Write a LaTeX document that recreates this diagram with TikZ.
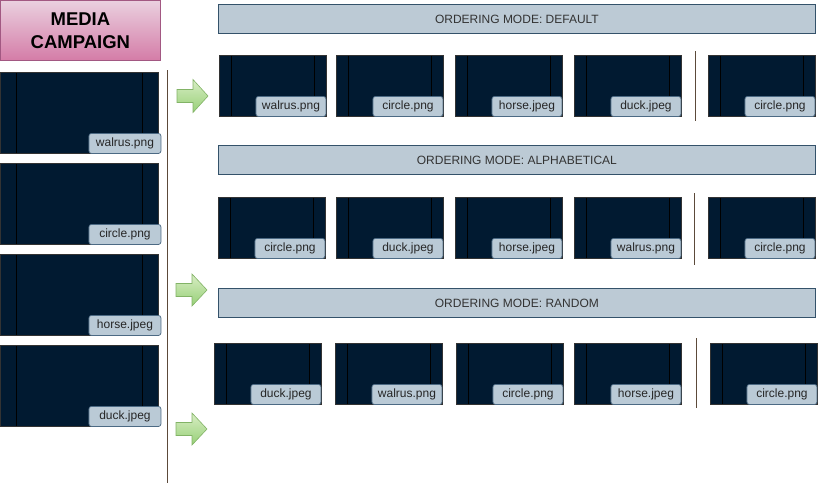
\documentclass[tikz,border=0pt]{standalone}
\usepackage{fontspec}
\setmainfont{Liberation Sans}
\usepackage{tikz}
\usetikzlibrary{positioning,calc}

\definecolor{tilenavy}{HTML}{011A31}
\definecolor{lblfill}{HTML}{BACAD6}
\definecolor{lbldraw}{HTML}{4C6A84}
\definecolor{hdrfill}{HTML}{BCCAD5}
\definecolor{hdrdraw}{HTML}{34526A}
\definecolor{sepbrown}{HTML}{5C4A3A}
\definecolor{pinktop}{HTML}{EAD0DF}
\definecolor{pinkbot}{HTML}{D47CA7}
\definecolor{pinkdraw}{HTML}{A25882}
\definecolor{greentop}{HTML}{D8EDC4}
\definecolor{greenbot}{HTML}{97D077}
\definecolor{greendraw}{HTML}{82B366}

\begin{document}
\begin{tikzpicture}[x=1pt, y=-1pt,
    tile/.style={draw=black!80, fill=tilenavy, line width=0.8pt, minimum width=107pt, minimum height=61pt, inner sep=0pt, anchor=north west,
      path picture={\draw[black, line width=0.8pt]
        ([xshift=#1]path picture bounding box.north west) -- ([xshift=#1]path picture bounding box.south west)
        ([xshift=-#1]path picture bounding box.north east) -- ([xshift=-#1]path picture bounding box.south east);}},
    tile/.default=12pt,
    lbl/.style={draw=lbldraw, fill=lblfill, rounded corners=2.5pt, line width=0.7pt, minimum width=70pt, minimum height=20pt, inner sep=0pt, anchor=south east, text=black!85, font=\fontsize{12}{14}\selectfont},
    hdr/.style={draw=hdrdraw, fill=hdrfill, line width=0.8pt, minimum width=597pt, minimum height=29pt, inner sep=0pt, anchor=north west, text=black!80, font=\fontsize{12}{14}\selectfont},
    sep/.style={draw=sepbrown, line width=0.9pt},
    garrow/.style={draw=greendraw, top color=greentop, bottom color=greenbot, line width=0.6pt}]
    \useasboundingbox (0,0) rectangle (818,485);

    % campaign
    \node[draw=pinkdraw, top color=pinktop, bottom color=pinkbot, line width=0.8pt, minimum width=160pt, minimum height=60pt, inner sep=0pt, anchor=north west, align=center, font=\fontsize{18.5}{23}\selectfont\bfseries] (camp) at (0,0) {MEDIA\\CAMPAIGN};
    \node[tile=16pt, minimum width=158pt, minimum height=81pt] (m1) at (0,72) {};
    \node[tile=16pt, minimum width=158pt, minimum height=81pt] (m2) at (0,163) {};
    \node[tile=16pt, minimum width=158pt, minimum height=81pt] (m3) at (0,254) {};
    \node[tile=16pt, minimum width=158pt, minimum height=81pt] (m4) at (0,345) {};
    \node[lbl, minimum width=72pt] (m1l) at ([xshift=2.5pt]m1.south east) {walrus.png};
    \node[lbl, minimum width=72pt] (m2l) at ([xshift=2.5pt]m2.south east) {circle.png};
    \node[lbl, minimum width=72pt] (m3l) at ([xshift=2.5pt]m3.south east) {horse.jpeg};
    \node[lbl, minimum width=72pt] (m4l) at ([xshift=2.5pt]m4.south east) {duck.jpeg};

    \coordinate (vtop) at (167,70);
    \coordinate (vbot) at (167,483);
    \draw[sep] (vtop) -- (vbot);

    % arrows
    \path[garrow] (177,96) ++(0,-6.5) -- ++(16,0) -- ++(0,-10) -- ++(15,16.5) -- ++(-15,16.5) -- ++(0,-10) -- ++(-16,0) -- cycle;
    \path[garrow] (176,290) ++(0,-6.5) -- ++(16,0) -- ++(0,-9.5) -- ++(15,16) -- ++(-15,16) -- ++(0,-9.5) -- ++(-16,0) -- cycle;
    \path[garrow] (176,429) ++(0,-6.5) -- ++(16,0) -- ++(0,-9.5) -- ++(15,16) -- ++(-15,16) -- ++(0,-9.5) -- ++(-16,0) -- cycle;

    % default
    \node[hdr] (h1) at (218,4) {ORDERING MODE: DEFAULT};
    \node[tile] (d1) at (219,55) {};
    \node[tile] (d2) at (336,55) {};
    \node[tile] (d3) at (455,55) {};
    \node[tile] (d4) at (574,55) {};
    \node[tile] (d5) at (708,55) {};
    \node[lbl] (d1l) at ([xshift=-0.5pt]d1.south east) {walrus.png};
    \node[lbl] (d2l) at ([xshift=-0.5pt]d2.south east) {circle.png};
    \node[lbl] (d3l) at ([xshift=-0.5pt]d3.south east) {horse.jpeg};
    \node[lbl] (d4l) at ([xshift=-0.5pt]d4.south east) {duck.jpeg};
    \node[lbl] (d5l) at ([xshift=-0.5pt]d5.south east) {circle.png};
    \coordinate (s1a) at (695,51);
    \coordinate (s1b) at (695,121);
    \draw[sep] (s1a) -- (s1b);

    % alphabetical
    \node[hdr] (h2) at (218,145) {ORDERING MODE: ALPHABETICAL};
    \node[tile] (a1) at (218,197) {};
    \node[tile] (a2) at (336,197) {};
    \node[tile] (a3) at (455,197) {};
    \node[tile] (a4) at (574,197) {};
    \node[tile] (a5) at (708,197) {};
    \node[lbl] (a1l) at ([xshift=-0.5pt]a1.south east) {circle.png};
    \node[lbl] (a2l) at ([xshift=-0.5pt]a2.south east) {duck.jpeg};
    \node[lbl] (a3l) at ([xshift=-0.5pt]a3.south east) {horse.jpeg};
    \node[lbl] (a4l) at ([xshift=-0.5pt]a4.south east) {walrus.png};
    \node[lbl] (a5l) at ([xshift=-0.5pt]a5.south east) {circle.png};
    \coordinate (s2a) at (694,193);
    \coordinate (s2b) at (694,265);
    \draw[sep] (s2a) -- (s2b);

    % random
    \node[hdr] (h3) at (218,288) {ORDERING MODE: RANDOM};
    \node[tile] (r1) at (214,343) {};
    \node[tile] (r2) at (335,343) {};
    \node[tile] (r3) at (456,343) {};
    \node[tile] (r4) at (574,343) {};
    \node[tile] (r5) at (710,343) {};
    \node[lbl] (r1l) at ([xshift=-0.5pt]r1.south east) {duck.jpeg};
    \node[lbl] (r2l) at ([xshift=-0.5pt]r2.south east) {walrus.png};
    \node[lbl] (r3l) at ([xshift=-0.5pt]r3.south east) {circle.png};
    \node[lbl] (r4l) at ([xshift=-0.5pt]r4.south east) {horse.jpeg};
    \node[lbl] (r5l) at ([xshift=-0.5pt]r5.south east) {circle.png};
    \coordinate (s3a) at (696,338);
    \coordinate (s3b) at (696,408);
    \draw[sep] (s3a) -- (s3b);
\end{tikzpicture}
\end{document}
